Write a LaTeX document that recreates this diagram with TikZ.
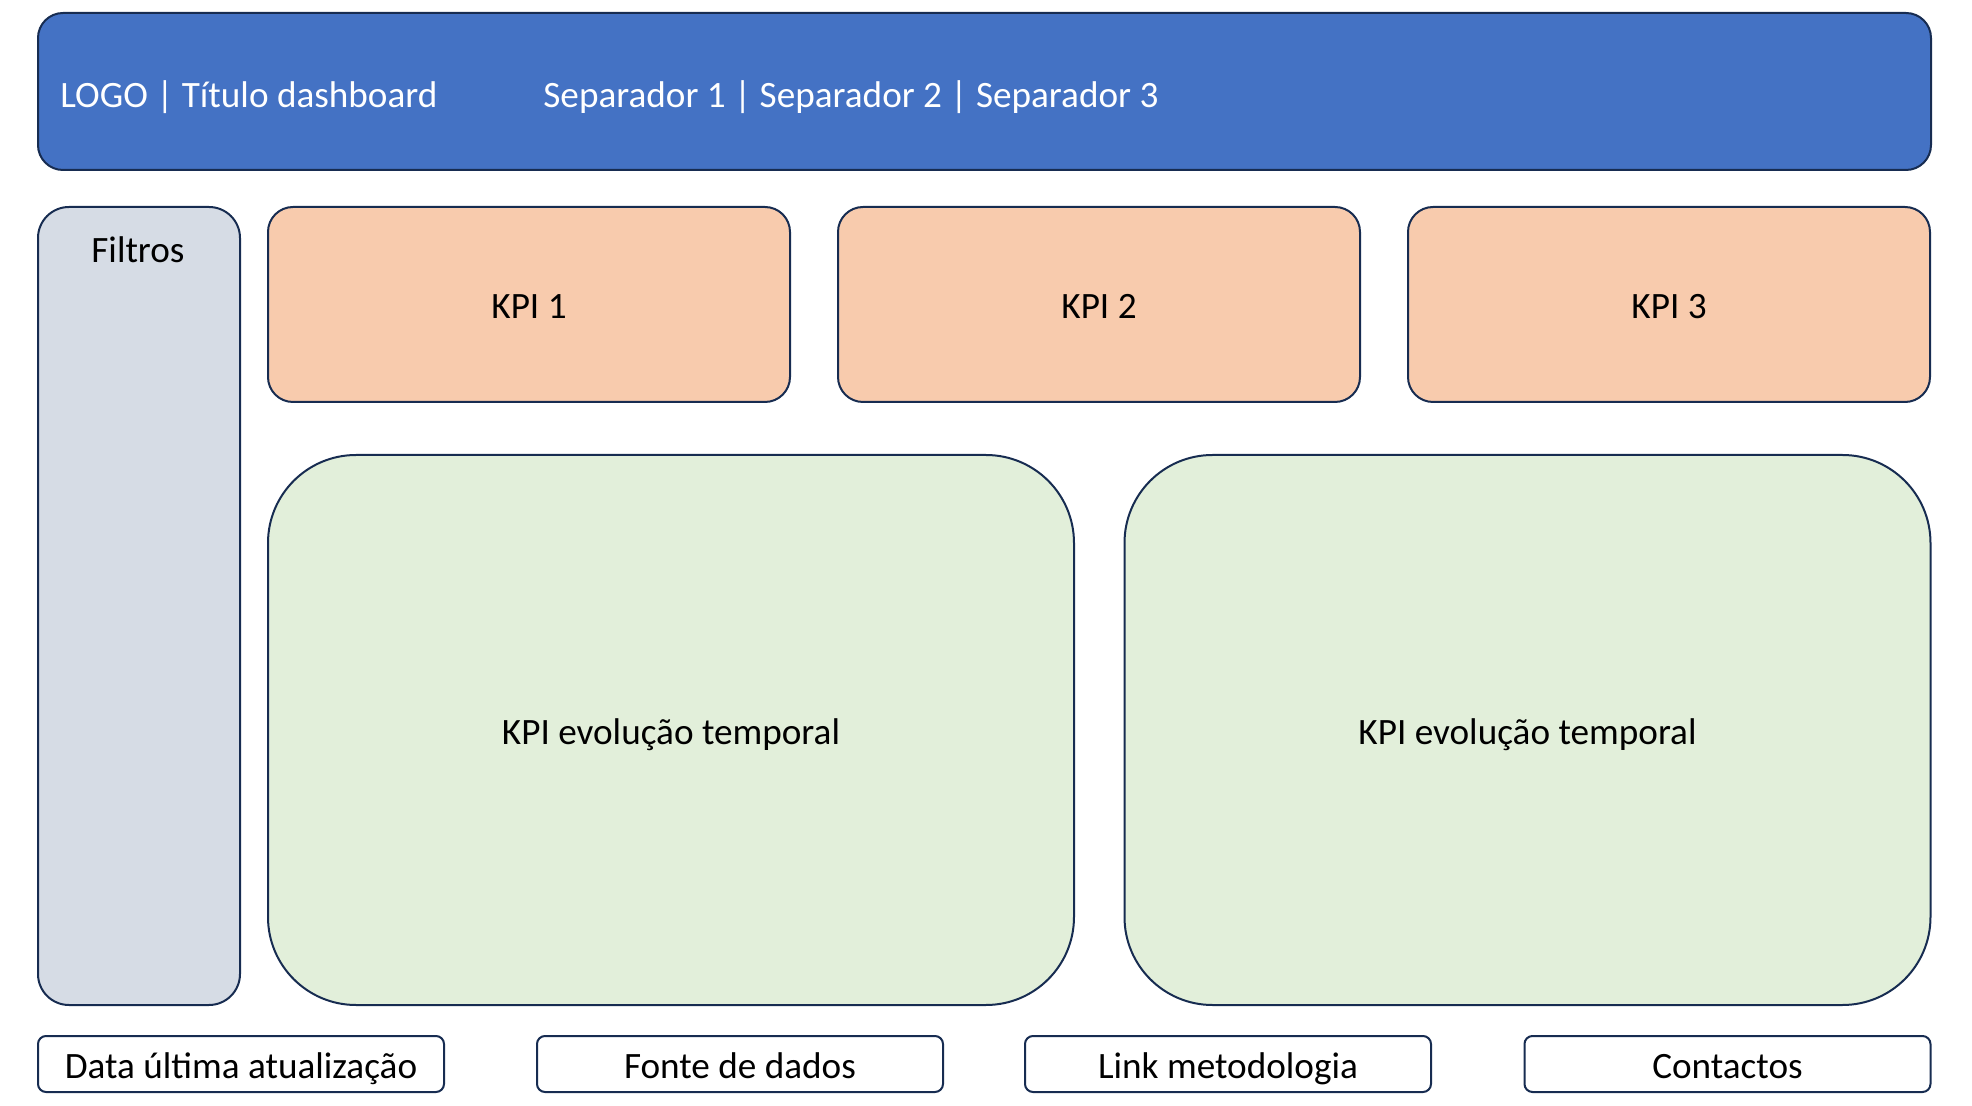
\documentclass[tikz,border=0pt]{standalone}
\usepackage{fontspec}
\setmainfont{Carlito}
\definecolor{hdr}{HTML}{4472C4}
\definecolor{edge}{HTML}{172C51}
\definecolor{filt}{HTML}{D6DCE5}
\definecolor{kpi}{HTML}{F8CBAD}
\definecolor{grn}{HTML}{E2EFDA}
\tikzset{
  panel/.style={draw=edge, line width=1pt, inner sep=0pt, rectangle},
  txt/.style={font=\fontsize{18.6}{22}\selectfont, inner sep=0pt, text height=17.7pt, text depth=3.5pt},
}
\begin{document}
\begin{tikzpicture}[x=0.5pt,y=-0.5pt]
\useasboundingbox (0,0) rectangle (1972,1106);
\node[panel, fill=hdr, rounded corners=12.5pt, minimum width=946.5pt, minimum height=78.5pt] (header) at (984.5,91.5) {};
\node[txt, text=white, anchor=west] (title) at (60,93) {LOGO | Título dashboard};
\node[txt, text=white, anchor=west] (seps) at (543,93) {Separador 1 | Separador 2 | Separador 3};

\node[panel, fill=filt, rounded corners=15.5pt, minimum width=101pt, minimum height=399pt] (filtros) at (139,606) {};
\node[txt] (filtrostxt) at (138,248) {Filtros};

\node[panel, fill=kpi, rounded corners=12.5pt, minimum width=261pt, minimum height=97.5pt, txt] (kpi1) at (529,304.5) {KPI 1};
\node[panel, fill=kpi, rounded corners=12.5pt, minimum width=261pt, minimum height=97.5pt, txt] (kpi2) at (1099,304.5) {KPI 2};
\node[panel, fill=kpi, rounded corners=12.5pt, minimum width=261pt, minimum height=97.5pt, txt] (kpi3) at (1669,304.5) {KPI 3};

\node[panel, fill=grn, rounded corners=44pt, minimum width=403pt, minimum height=275pt, txt] (evo1) at (671,730) {KPI evolução temporal};
\node[panel, fill=grn, rounded corners=44pt, minimum width=403pt, minimum height=275pt, txt] (evo2) at (1527.5,730) {KPI evolução temporal};

\node[panel, fill=white, rounded corners=4pt, minimum width=203pt, minimum height=28pt, txt] (f1) at (241,1064) {Data última atualização};
\node[panel, fill=white, rounded corners=4pt, minimum width=203pt, minimum height=28pt, txt] (f2) at (740,1064) {Fonte de dados};
\node[panel, fill=white, rounded corners=4pt, minimum width=203pt, minimum height=28pt, txt] (f3) at (1228,1064) {Link metodologia};
\node[panel, fill=white, rounded corners=4pt, minimum width=203pt, minimum height=28pt, txt] (f4) at (1727.5,1064) {Contactos};
\end{tikzpicture}
\end{document}
